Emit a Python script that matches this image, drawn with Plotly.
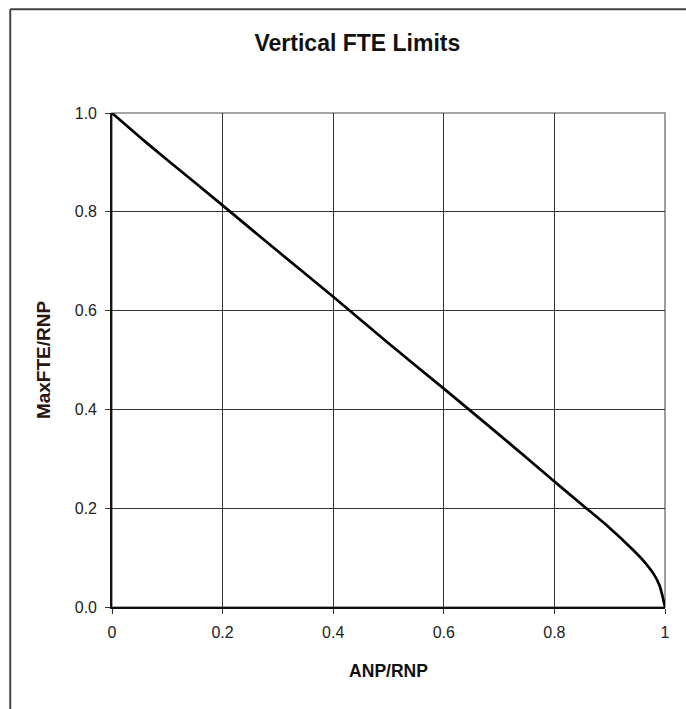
import plotly.graph_objects as go

anp_rnp = [0.0, 0.06, 0.1, 0.2, 0.3, 0.4, 0.5, 0.6, 0.7, 0.8, 0.85, 0.9, 0.94,
           0.96, 0.98, 0.99, 1.0]
maxfte_rnp = [1.0, 0.942, 0.905, 0.813, 0.720, 0.628, 0.534, 0.442, 0.349, 0.254,
              0.207, 0.160, 0.118, 0.095, 0.066, 0.044, 0.0]

x_ticks = [0, 0.2, 0.4, 0.6, 0.8, 1]
x_tick_labels = ["0", "0.2", "0.4", "0.6", "0.8", "1"]
y_ticks = [0.0, 0.2, 0.4, 0.6, 0.8, 1.0]
y_tick_labels = ["0.0", "0.2", "0.4", "0.6", "0.8", "1.0"]

FONT = "Liberation Sans, Arial, sans-serif"

fig = go.Figure()
fig.add_trace(go.Scatter(x=anp_rnp, y=maxfte_rnp, mode="lines",
                         line=dict(color="#000000", width=2.7, shape="spline", smoothing=0.8),
                         showlegend=False, hoverinfo="skip"))

fig.update_layout(
    width=686, height=709,
    margin=dict(l=112, r=21, t=113, b=102),
    paper_bgcolor="white", plot_bgcolor="white",
    font=dict(family=FONT, color="#222222", size=16),
    title=dict(text="<b>Vertical FTE Limits</b>", x=0.521, xanchor="center",
               y=0.939, yanchor="middle", font=dict(size=23, color="#111111", family=FONT)),
    xaxis=dict(range=[0, 1], tickvals=x_ticks, ticktext=x_tick_labels,
               showgrid=True, gridcolor="#333333", gridwidth=1.3,
               showline=True, linecolor="#111111", linewidth=1.6,
               ticks="outside", ticklen=5, tickcolor="#333333",
               ticklabelstandoff=5,
               zeroline=False, tickfont=dict(size=16, color="#222222"),
               title=dict(text="<b>ANP/RNP</b>", font=dict(size=17.5, color="#111111"),
                          standoff=25)),
    yaxis=dict(range=[0, 1], tickvals=y_ticks, ticktext=y_tick_labels,
               showgrid=True, gridcolor="#333333", gridwidth=1.3,
               showline=True, linecolor="#111111", linewidth=1.6,
               ticks="outside", ticklen=5, tickcolor="#333333",
               ticklabelstandoff=5,
               zeroline=False, tickfont=dict(size=16, color="#222222"),
               title=dict(text="<b>MaxFTE/RNP</b>", font=dict(size=19, color="#2a1510"),
                          standoff=19)),
    shapes=[
        dict(type="rect", xref="paper", yref="paper", x0=0, x1=1, y0=0, y1=1,
             line=dict(color="#888888", width=1.6), layer="below"),
        dict(type="line", xref="paper", yref="paper", x0=-0.184, x1=1.1, y0=1.21, y1=1.21,
             line=dict(color="#444444", width=2)),
        dict(type="line", xref="paper", yref="paper", x0=-0.184, x1=-0.184, y0=1.21, y1=-0.3,
             line=dict(color="#444444", width=2)),
    ],
)

fig.write_html("out.html", config={"displayModeBar": False},
               post_script="document.body.style.margin='0';")
